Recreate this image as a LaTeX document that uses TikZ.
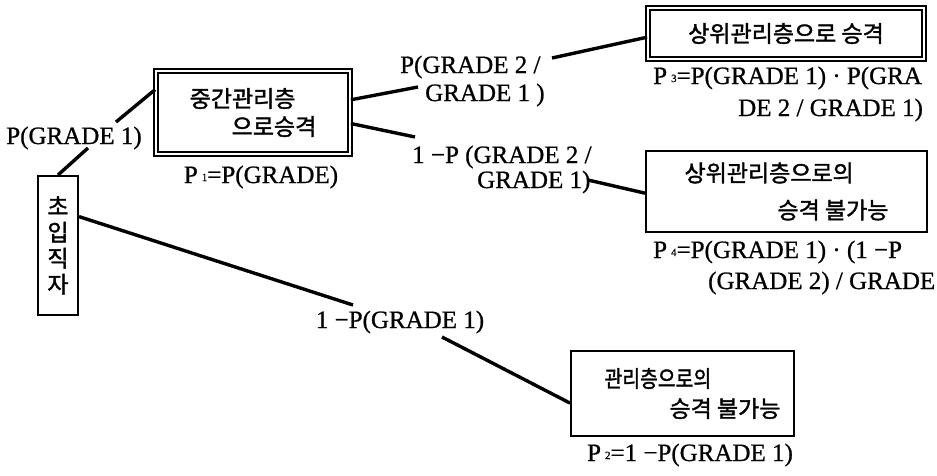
\documentclass[tikz,border=0pt]{standalone}
\usepackage{fontspec}
\usepackage{graphicx}
\setmainfont[FakeBold=0.8]{Liberation Serif}
\newfontfamily\kr[FakeBold=1.6]{Noto Sans CJK KR}
\usetikzlibrary{calc}
\newcommand\Psub[1]{P\kern4pt\raisebox{2pt}{\fontsize{11}{11}\selectfont #1}}
\begin{document}
\begin{tikzpicture}[x=1pt,y=-1pt,
  lat/.style={font=\fontsize{25}{28}\selectfont, inner sep=0pt},
  sbox/.style={draw, line width=2pt, inner sep=0pt},
  dbox/.style={draw, line width=1.8pt, double=white, double distance=2.4pt, inner sep=0pt},
  conn/.style={line width=3.4pt}
]
\useasboundingbox (0,0) rectangle (937,475);

% boxes
\node[sbox, minimum width=40pt, minimum height=139pt, align=center,
      font=\kr\fontsize{23}{26}\selectfont] (init) at (58,245.5) {초\\입\\직\\자};
\node[dbox, minimum width=194pt, minimum height=83pt, align=left,
      font=\kr\fontsize{23}{28}\selectfont] (mid) at (253,112.5)
      {중간관리층\\\hspace*{42pt}으로승격};
\node[dbox, minimum width=276pt, minimum height=51pt, align=left,
      font=\kr\fontsize{23}{28}\selectfont] (top) at (786,33.5)
      {상위관리층으로 승격};
\node[sbox, minimum width=281pt, minimum height=81pt, align=left,
      font=\kr\fontsize{23}{37}\selectfont] (b4) at (786.5,191.5)
      {상위관리층으로의\\\hspace*{93pt}승격 불가능};
\node[sbox, minimum width=223pt, minimum height=85pt, align=left,
      font=\kr\fontsize{23}{30}\selectfont] (b5) at (682.5,393.5)
      {\hspace*{20pt}\scalebox{0.84}[1]{관리층으로의}\\\hspace*{85pt}승격 불가능};

% connector labels
\node[lat] (l1) at (74,138) {P(GRADE 1)};
\node[lat] (l2) at (400,322) {1 −P(GRADE 1)};
\node[lat, anchor=west, align=left] (l3) at (400,81) {P(GRADE 2 /\\\hspace*{25pt}GRADE 1 )};
\node[lat, anchor=west, align=left, font=\fontsize{25}{25}\selectfont] (l4) at (412,169.5)
      {1 −P (GRADE 2 /\\\hspace*{65pt}GRADE 1)};

% probability labels
\node[lat] (p1) at (261,177) {\Psub{1}=P(GRADE)};
\node[lat, anchor=west, align=left, font=\fontsize{25}{32}\selectfont] (p3) at (653,94)
      {\Psub{3}=P(GRADE 1) · P(GRA\\\hspace*{85pt}DE 2 / GRADE 1)};
\node[lat, anchor=west, align=left, font=\fontsize{25}{31}\selectfont] (p4) at (653,267.5)
      {\Psub{4}=P(GRADE 1) · (1 −P\\\hspace*{55pt}(GRADE 2) / GRADE};
\node[lat] (p2) at (690,455) {\Psub{2}=1 −P(GRADE 1)};

% connectors
\coordinate (a1) at (88,148);
\coordinate (a2) at (116,122);
\draw[conn] (init.north) -- (a1);
\draw[conn] (a2) -- ($(mid.north west)!0.23!(mid.south west)$);

\coordinate (b1) at (353,305);
\coordinate (b2) at (442,337);
\draw[conn] ($(init.north east)!0.295!(init.south east)$) -- (b1);
\draw[conn] (b2) -- ($(b5.north west)!0.61!(b5.south west)$);

\coordinate (c1) at (418,87);
\coordinate (c2) at (552,58);
\draw[conn] ($(mid.north east)!0.35!(mid.south east)$) -- (c1);
\draw[conn] (c2) -- ($(top.north west)!0.57!(top.south west)$);

\coordinate (d1) at (415,137);
\coordinate (d2) at (588,180);
\draw[conn] ($(mid.north east)!0.63!(mid.south east)$) -- (d1);
\draw[conn] (d2) -- ($(b4.north west)!0.52!(b4.south west)$);
\end{tikzpicture}
\end{document}
